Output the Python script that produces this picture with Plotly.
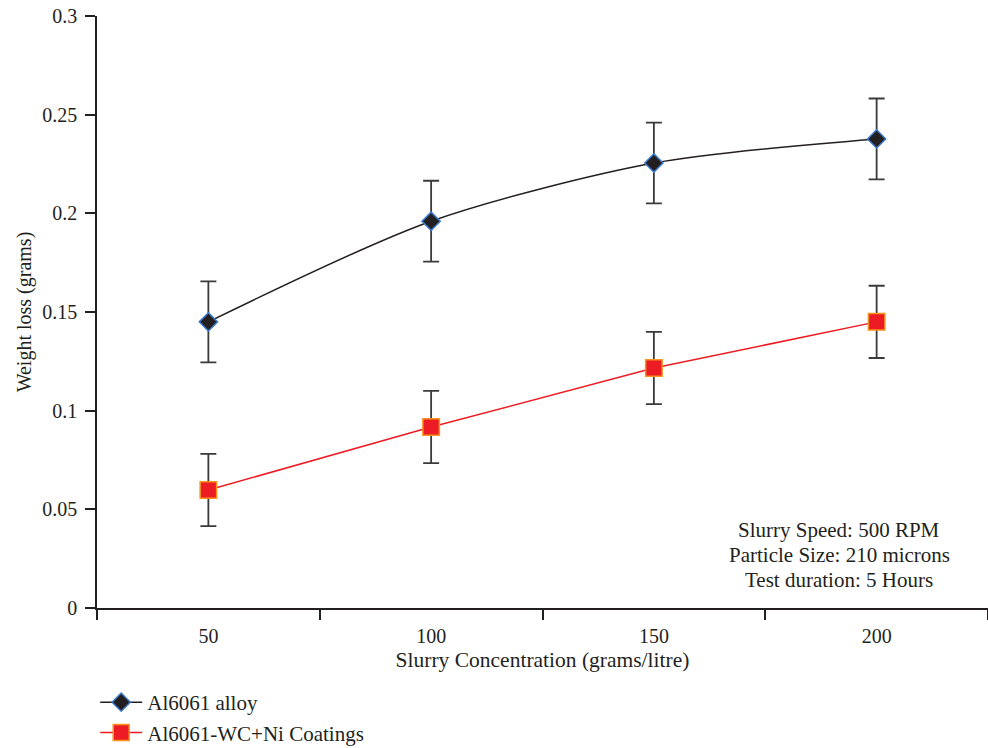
import plotly.graph_objects as go

categories = ["50", "100", "150", "200"]
alloy = [0.145, 0.196, 0.2255, 0.2377]
alloy_err = [0.0205, 0.0205, 0.0205, 0.0205]
coat = [0.0598, 0.0917, 0.1216, 0.145]
coat_err = [0.0183, 0.0183, 0.0183, 0.0183]
note_lines = ["Slurry Speed: 500 RPM", "Particle Size: 210 microns", "Test duration: 5 Hours"]

FONT = "Liberation Serif"
INK = "#231f20"
fig = go.Figure()
fig.add_trace(go.Scatter(
    x=categories, y=alloy, name="Al6061 alloy", mode="lines+markers",
    line=dict(color=INK, width=1.5, shape="spline", smoothing=0.8),
    marker=dict(symbol="diamond", size=14, color=INK,
                line=dict(color="#3b78c8", width=1.5)),
    error_y=dict(type="data", array=alloy_err, visible=True, color="#3a3a3a",
                 thickness=1.8, width=8),
))
fig.add_trace(go.Scatter(
    x=categories, y=coat, name="Al6061-WC+Ni Coatings", mode="lines+markers",
    line=dict(color="#ed1c24", width=1.5),
    marker=dict(symbol="square", size=16.5, color="#ed1c24",
                line=dict(color="#f7941d", width=1.5)),
    error_y=dict(type="data", array=coat_err, visible=True, color="#3a3a3a",
                 thickness=1.8, width=8),
))
for i, line in enumerate(note_lines):
    fig.add_annotation(
        x=0.833, y=0.1318 - i * 0.0423, xref="paper", yref="paper",
        xanchor="center", yanchor="middle", text=line, showarrow=False,
        font=dict(family=FONT, size=21, color=INK),
    )
fig.update_layout(
    width=988, height=748, margin=dict(l=97, r=0, t=16, b=140),
    plot_bgcolor="white", paper_bgcolor="white",
    font=dict(family=FONT, size=20, color=INK),
    xaxis=dict(type="category", range=[-0.5, 3.5], tickson="boundaries",
               ticks="outside", ticklen=10, tickwidth=1.5, tickcolor=INK,
               ticklabelstandoff=9, automargin=False,
               showline=True, linecolor=INK, linewidth=1.5, showgrid=False,
               zeroline=False, tickfont=dict(size=20),
               title=dict(text="Slurry Concentration (grams/litre)", standoff=6,
                          font=dict(size=21.5))),
    yaxis=dict(range=[0, 0.3], dtick=0.05, tickformat="~g",
               ticks="outside", ticklen=10, tickwidth=1.5, tickcolor=INK,
               ticklabelstandoff=4, automargin=False,
               showline=True, linecolor=INK, linewidth=1.5, showgrid=False,
               zeroline=False, tickfont=dict(size=20),
               title=dict(text="Weight loss (grams)", standoff=5, font=dict(size=20))),
    legend=dict(x=-0.002, y=0.0882, xref="paper", yref="container",
                xanchor="left", yanchor="top", itemwidth=42,
                font=dict(family=FONT, size=21), bgcolor="rgba(0,0,0,0)"),
)
fig.write_html("out.html")
